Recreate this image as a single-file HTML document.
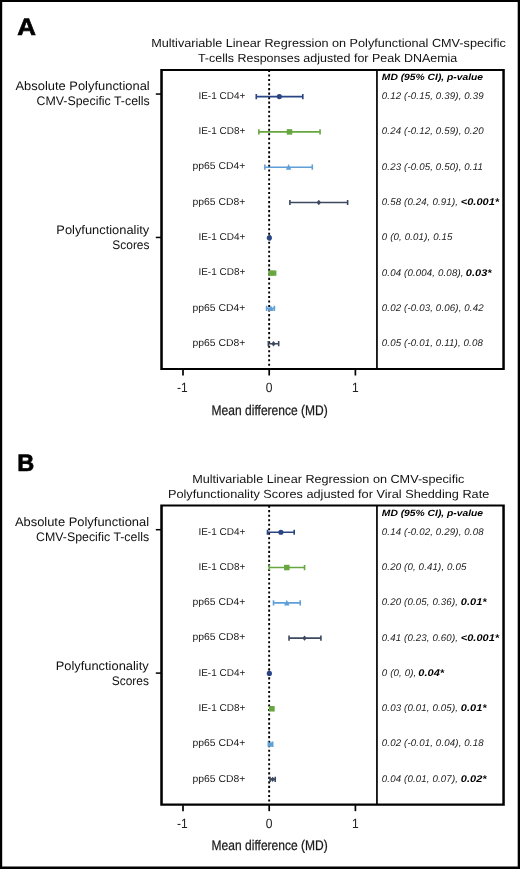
<!DOCTYPE html>
<html>
<head>
<meta charset="utf-8">
<title>Forest plot</title>
<style>
html,body{margin:0;padding:0;background:#fff;}
body{width:520px;height:869px;overflow:hidden;font-family:"Liberation Sans",sans-serif;}
#wrap{position:absolute;left:0;top:0;width:520px;height:869px;will-change:transform;}
svg{display:block;position:absolute;left:0;top:0;}
text{font-family:"Liberation Sans",sans-serif;fill:#1a1a1a;white-space:pre;text-rendering:geometricPrecision;}
.tx{mix-blend-mode:multiply;}
.letter{font-size:24px;font-weight:bold;fill:#000;stroke:#000;stroke-width:0.7px;}
.title{font-size:11.8px;fill:#111;}
.grp{font-size:12.4px;fill:#111;}
.rl{font-size:10px;fill:#1a1a1a;}
.xt{font-size:13.4px;fill:#222;}
.xl{font-size:14px;fill:#1a1a1a;stroke:#1a1a1a;stroke-width:0.25px;}
.hdr{font-size:9.1px;font-weight:bold;font-style:italic;fill:#000;}
.val{font-size:9.7px;font-style:italic;fill:#222;letter-spacing:0.14px;}
.b{font-weight:bold;fill:#000;letter-spacing:0;}
.tick{stroke:#000;stroke-width:1.5;}
.zero{stroke:#000;stroke-width:1.9;stroke-dasharray:2.1 2.42;}
</style>
</head>
<body>
<div id="wrap">
<svg width="520" height="869" viewBox="0 0 520 869">
<rect x="0" y="0" width="520" height="869" fill="#fff"/>
<g class="tx">
<text x="17.2" y="35" class="letter" textLength="18.7" lengthAdjust="spacingAndGlyphs">A</text>
<text x="151.2" y="47" class="title" textLength="354.6" lengthAdjust="spacingAndGlyphs">Multivariable Linear Regression on Polyfunctional CMV-specific</text>
<text x="197.95" y="62" class="title" textLength="259.35" lengthAdjust="spacingAndGlyphs">T-cells Responses adjusted for Peak DNAemia</text>
<text x="15.5" y="90" class="grp" textLength="134.2" lengthAdjust="spacingAndGlyphs">Absolute Polyfunctional</text>
<text x="36.6" y="105" class="grp" textLength="113.1" lengthAdjust="spacingAndGlyphs">CMV-Specific T-cells</text>
<text x="56.3" y="234" class="grp" textLength="93" lengthAdjust="spacingAndGlyphs">Polyfunctionality</text>
<text x="112.3" y="249" class="grp" textLength="37.2" lengthAdjust="spacingAndGlyphs">Scores</text>
<line x1="269.15" y1="69.95" x2="269.15" y2="368" class="zero"/>
<path d="M160.25 68.9H504.8V370H160.25ZM162.8 70.95V367.95H376.1V70.95ZM377.8 70.95V367.95H502.3V70.95Z" fill="#000" fill-rule="evenodd"/>
<line x1="155.8" y1="94.05" x2="161" y2="94.05" class="tick"/>
<line x1="155.8" y1="237.45" x2="161" y2="237.45" class="tick"/>
<line x1="183" y1="369.5" x2="183" y2="375.5" class="tick" style="stroke-width:1.7"/>
<text transform="translate(182.3,392) scale(0.9,1)" class="xt" text-anchor="middle">-1</text>
<line x1="269.2" y1="369.5" x2="269.2" y2="375.5" class="tick" style="stroke-width:1.7"/>
<text transform="translate(269.15,392) scale(0.9,1)" class="xt" text-anchor="middle">0</text>
<line x1="355.4" y1="369.5" x2="355.4" y2="375.5" class="tick" style="stroke-width:1.7"/>
<text transform="translate(355.3,392) scale(0.9,1)" class="xt" text-anchor="middle">1</text>
<text x="211.6" y="415" class="xl" textLength="116.2" lengthAdjust="spacingAndGlyphs">Mean difference (MD)</text>
<text x="381.8" y="80" class="hdr" textLength="101.3" lengthAdjust="spacingAndGlyphs">MD (95% CI), p-value</text>
<text x="198.4" y="99" class="rl" textLength="46.9" lengthAdjust="spacingAndGlyphs">IE-1 CD4+</text>
<path d="M256.27 96.6H302.82M256.27 94V99.2M302.82 94V99.2" stroke="#2a4584" stroke-width="1.6" fill="none"/>
<circle cx="279.35" cy="96.6" r="2.6" fill="#2a4584"/>
<text x="381.8" y="99" class="val">0.12 (-0.15, 0.39), 0.39</text>
<text x="198.4" y="134" class="rl" textLength="46.9" lengthAdjust="spacingAndGlyphs">IE-1 CD8+</text>
<path d="M258.86 131.9H320.06M258.86 129.3V134.5M320.06 129.3V134.5" stroke="#68a640" stroke-width="1.6" fill="none"/>
<rect x="286.75" y="129.15" width="5.5" height="5.5" fill="#68a640"/>
<text x="381.8" y="134" class="val">0.24 (-0.12, 0.59), 0.20</text>
<text x="192.5" y="169" class="rl" textLength="52.8" lengthAdjust="spacingAndGlyphs">pp65 CD4+</text>
<path d="M264.89 167.2H312.3M264.89 164.6V169.8M312.3 164.6V169.8" stroke="#5f9fd8" stroke-width="1.6" fill="none"/>
<path d="M288.6 164.1L291.3 169.8H285.9Z" fill="#5f9fd8"/>
<text x="381.8" y="170" class="val">0.23 (-0.05, 0.50), 0.11</text>
<text x="192.5" y="205" class="rl" textLength="52.8" lengthAdjust="spacingAndGlyphs">pp65 CD8+</text>
<path d="M289.89 202.5H347.64M289.89 199.9V205.1M347.64 199.9V205.1" stroke="#3e495f" stroke-width="1.6" fill="none"/>
<path d="M318.8 199.8L321 202.5L318.8 205.2L316.6 202.5Z" fill="#3e495f"/>
<text x="381.8" y="205" class="val">0.58 (0.24, 0.91),</text>
<text x="460.85" y="205" class="val b" textLength="38.2" lengthAdjust="spacingAndGlyphs">&lt;0.001*</text>
<text x="198.4" y="240" class="rl" textLength="46.9" lengthAdjust="spacingAndGlyphs">IE-1 CD4+</text>
<path d="M269.2 237.8H270.06M269.2 235.2V240.4M270.06 235.2V240.4" stroke="#2a4584" stroke-width="1.6" fill="none"/>
<circle cx="269.35" cy="237.8" r="2.6" fill="#2a4584"/>
<text x="381.8" y="240" class="val">0 (0, 0.01), 0.15</text>
<text x="198.4" y="275" class="rl" textLength="46.9" lengthAdjust="spacingAndGlyphs">IE-1 CD8+</text>
<path d="M269.04 273.1H275.6M269.04 270.5V275.7M275.6 270.5V275.7" stroke="#68a640" stroke-width="1.6" fill="none"/>
<rect x="269.4" y="270.35" width="5.5" height="5.5" fill="#68a640"/>
<text x="381.8" y="276" class="val">0.04 (0.004, 0.08),</text>
<text x="465.85" y="276" class="val b" textLength="25.7" lengthAdjust="spacingAndGlyphs">0.03*</text>
<text x="192.5" y="311" class="rl" textLength="52.8" lengthAdjust="spacingAndGlyphs">pp65 CD4+</text>
<path d="M266.61 308.4H274.37M266.61 305.8V311M274.37 305.8V311" stroke="#5f9fd8" stroke-width="1.6" fill="none"/>
<path d="M270.92 305.3L273.62 311H268.22Z" fill="#5f9fd8"/>
<text x="381.8" y="311" class="val">0.02 (-0.03, 0.06), 0.42</text>
<text x="192.5" y="346" class="rl" textLength="52.8" lengthAdjust="spacingAndGlyphs">pp65 CD8+</text>
<path d="M268.34 343.7H278.68M268.34 341.1V346.3M278.68 341.1V346.3" stroke="#3e495f" stroke-width="1.6" fill="none"/>
<path d="M273.51 341L275.71 343.7L273.51 346.4L271.31 343.7Z" fill="#3e495f"/>
<text x="381.8" y="346" class="val">0.05 (-0.01, 0.11), 0.08</text>
</g>
<g class="tx">
<text x="17.3" y="471" class="letter" textLength="17.0" lengthAdjust="spacingAndGlyphs">B</text>
<text x="192.2" y="483" class="title" textLength="272.1" lengthAdjust="spacingAndGlyphs">Multivariable Linear Regression on CMV-specific</text>
<text x="167.95" y="498" class="title" textLength="321.35" lengthAdjust="spacingAndGlyphs">Polyfunctionality Scores adjusted for Viral Shedding Rate</text>
<text x="14.9" y="526" class="grp" textLength="134.2" lengthAdjust="spacingAndGlyphs">Absolute Polyfunctional</text>
<text x="36" y="541" class="grp" textLength="113.1" lengthAdjust="spacingAndGlyphs">CMV-Specific T-cells</text>
<text x="55.7" y="670" class="grp" textLength="93" lengthAdjust="spacingAndGlyphs">Polyfunctionality</text>
<text x="111.7" y="685" class="grp" textLength="37.2" lengthAdjust="spacingAndGlyphs">Scores</text>
<line x1="269.15" y1="505.6" x2="269.15" y2="803.65" class="zero"/>
<path d="M160.25 504.55H504.8V805.65H160.25ZM162.8 506.6V803.6H376.1V506.6ZM377.8 506.6V803.6H502.3V506.6Z" fill="#000" fill-rule="evenodd"/>
<line x1="155.8" y1="529.7" x2="161" y2="529.7" class="tick"/>
<line x1="155.8" y1="673.1" x2="161" y2="673.1" class="tick"/>
<line x1="183" y1="805.15" x2="183" y2="811.15" class="tick" style="stroke-width:1.7"/>
<text transform="translate(182.3,828) scale(0.9,1)" class="xt" text-anchor="middle">-1</text>
<line x1="269.2" y1="805.15" x2="269.2" y2="811.15" class="tick" style="stroke-width:1.7"/>
<text transform="translate(269.15,828) scale(0.9,1)" class="xt" text-anchor="middle">0</text>
<line x1="355.4" y1="805.15" x2="355.4" y2="811.15" class="tick" style="stroke-width:1.7"/>
<text transform="translate(355.3,828) scale(0.9,1)" class="xt" text-anchor="middle">1</text>
<text x="211.6" y="850" class="xl" textLength="116.2" lengthAdjust="spacingAndGlyphs">Mean difference (MD)</text>
<text x="381.8" y="516" class="hdr" textLength="101.3" lengthAdjust="spacingAndGlyphs">MD (95% CI), p-value</text>
<text x="198.4" y="535" class="rl" textLength="46.9" lengthAdjust="spacingAndGlyphs">IE-1 CD4+</text>
<path d="M267.48 532.25H294.2M267.48 529.65V534.85M294.2 529.65V534.85" stroke="#2a4584" stroke-width="1.6" fill="none"/>
<circle cx="280.9" cy="532.25" r="2.6" fill="#2a4584"/>
<text x="381.8" y="535" class="val">0.14 (-0.02, 0.29), 0.08</text>
<text x="198.4" y="570" class="rl" textLength="46.9" lengthAdjust="spacingAndGlyphs">IE-1 CD8+</text>
<path d="M269.2 567.55H304.54M269.2 564.95V570.15M304.54 564.95V570.15" stroke="#68a640" stroke-width="1.6" fill="none"/>
<rect x="284.05" y="564.8" width="5.5" height="5.5" fill="#68a640"/>
<text x="381.8" y="570" class="val">0.20 (0, 0.41), 0.05</text>
<text x="192.5" y="605" class="rl" textLength="52.8" lengthAdjust="spacingAndGlyphs">pp65 CD4+</text>
<path d="M273.51 602.85H300.23M273.51 600.25V605.45M300.23 600.25V605.45" stroke="#5f9fd8" stroke-width="1.6" fill="none"/>
<path d="M286.8 599.75L289.5 605.45H284.1Z" fill="#5f9fd8"/>
<text x="381.8" y="605" class="val">0.20 (0.05, 0.36),</text>
<text x="460.85" y="605" class="val b" textLength="25.7" lengthAdjust="spacingAndGlyphs">0.01*</text>
<text x="192.5" y="640" class="rl" textLength="52.8" lengthAdjust="spacingAndGlyphs">pp65 CD8+</text>
<path d="M289.03 638.15H320.92M289.03 635.55V640.75M320.92 635.55V640.75" stroke="#3e495f" stroke-width="1.6" fill="none"/>
<path d="M304.54 635.45L306.74 638.15L304.54 640.85L302.34 638.15Z" fill="#3e495f"/>
<text x="381.8" y="641" class="val">0.41 (0.23, 0.60),</text>
<text x="460.85" y="641" class="val b" textLength="38.2" lengthAdjust="spacingAndGlyphs">&lt;0.001*</text>
<text x="198.4" y="676" class="rl" textLength="46.9" lengthAdjust="spacingAndGlyphs">IE-1 CD4+</text>
<path d="M269.2 673.45H269.2M269.2 670.85V676.05M269.2 670.85V676.05" stroke="#2a4584" stroke-width="1.6" fill="none"/>
<circle cx="269.35" cy="673.45" r="2.6" fill="#2a4584"/>
<text x="381.8" y="676" class="val">0 (0, 0),</text>
<text x="418.35" y="676" class="val b" textLength="25.7" lengthAdjust="spacingAndGlyphs">0.04*</text>
<text x="198.4" y="711" class="rl" textLength="46.9" lengthAdjust="spacingAndGlyphs">IE-1 CD8+</text>
<path d="M270.06 708.75H273.51M270.06 706.15V711.35M273.51 706.15V711.35" stroke="#68a640" stroke-width="1.6" fill="none"/>
<rect x="269.04" y="706" width="5.5" height="5.5" fill="#68a640"/>
<text x="381.8" y="711" class="val">0.03 (0.01, 0.05),</text>
<text x="460.85" y="711" class="val b" textLength="25.7" lengthAdjust="spacingAndGlyphs">0.01*</text>
<text x="192.5" y="746" class="rl" textLength="52.8" lengthAdjust="spacingAndGlyphs">pp65 CD4+</text>
<path d="M268.34 744.05H272.65M268.34 741.45V746.65M272.65 741.45V746.65" stroke="#5f9fd8" stroke-width="1.6" fill="none"/>
<path d="M270.92 740.95L273.62 746.65H268.22Z" fill="#5f9fd8"/>
<text x="381.8" y="746" class="val">0.02 (-0.01, 0.04), 0.18</text>
<text x="192.5" y="782" class="rl" textLength="52.8" lengthAdjust="spacingAndGlyphs">pp65 CD8+</text>
<path d="M270.06 779.35H275.23M270.06 776.75V781.95M275.23 776.75V781.95" stroke="#3e495f" stroke-width="1.6" fill="none"/>
<path d="M272.65 776.65L274.85 779.35L272.65 782.05L270.45 779.35Z" fill="#3e495f"/>
<text x="381.8" y="782" class="val">0.04 (0.01, 0.07),</text>
<text x="460.85" y="782" class="val b" textLength="25.7" lengthAdjust="spacingAndGlyphs">0.02*</text>
</g>
<path d="M0 0H520V869H0Z M2.2 2V866.6H517.7V2Z" fill="#000" fill-rule="evenodd"/>
</svg>
</div>
</body>
</html>
